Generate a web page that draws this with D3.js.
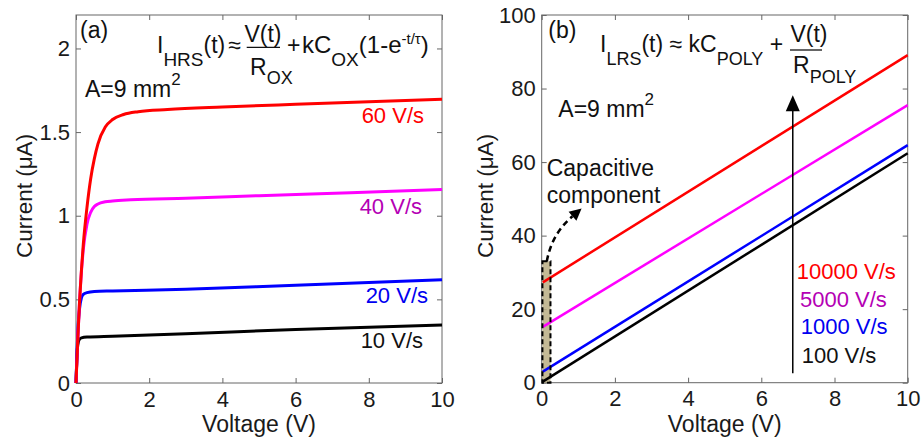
<!DOCTYPE html>
<html>
<head>
<meta charset="utf-8">
<script src="https://cdn.jsdelivr.net/npm/d3@7"></script>
<style>
  body { margin: 0; background: #fff; }
  svg { display: block; }
  text { font-family: "Liberation Sans", Arial, Helvetica, sans-serif; }
</style>
</head>
<body>
<svg id="chart" width="922" height="441"></svg>
<script>
// ---- axis ticks ----
const voltageTicks = [0, 2, 4, 6, 8, 10];
const currentTicksA = [0, 0.5, 1, 1.5, 2];
const currentTicksB = [0, 20, 40, 60, 80, 100];

// ---- (a) high-resistance state: [voltage V, current uA] per sweep rate ----
const hrs60 = [[0,0],[0.05,0.27],[0.1,0.5],[0.15,0.68],[0.2,0.83],[0.3,1.05],[0.4,1.22],[0.5,1.34],[0.6,1.43],[0.8,1.53],[1.0,1.575],[1.3,1.605],[1.7,1.622],[2.5,1.635],[4,1.65],[6,1.666],[8,1.681],[10,1.697]];
const hrs40 = [[0,0],[0.05,0.27],[0.1,0.5],[0.15,0.67],[0.2,0.8],[0.3,0.95],[0.4,1.02],[0.5,1.055],[0.6,1.07],[0.8,1.083],[1.0,1.088],[1.5,1.095],[3,1.105],[5,1.12],[7.5,1.138],[10,1.157]];
const hrs20 = [[0,0],[0.03,0.2],[0.06,0.35],[0.1,0.45],[0.15,0.51],[0.2,0.53],[0.3,0.54],[0.5,0.547],[1,0.55],[3,0.56],[6,0.585],[10,0.617]];
const hrs10 = [[0,0],[0.02,0.13],[0.04,0.21],[0.07,0.25],[0.1,0.263],[0.15,0.27],[0.3,0.275],[1,0.28],[3,0.295],[6,0.32],[10,0.347]];
const hrsRates = ["60 V/s", "40 V/s", "20 V/s", "10 V/s"];

// ---- (b) low-resistance state: straight lines between two voltages ----
const lrsV = [0.03, 10];
const lrs10000 = [27.3, 89.1];
const lrs5000 = [15.2, 75.5];
const lrs1000 = [3.0, 64.6];
const lrs100 = [0.3, 62.4];
const lrsRates = ["10000 V/s", "5000 V/s", "1000 V/s", "100 V/s"];

// capacitive window near 0 V (voltage range, current height)
const capWindow = [0.02, 0.24];
const capHeight = 33;

const lineColors = ["#ff0000", "#ff00ff", "#0000ff", "#000000"];
const textColors = ["#ff0000", "#b400b4", "#0000f0", "#111111"];

const svg = d3.select("#chart");
const FS = 23;      // titles and annotations
const TICK_FS = 22; // tick and rate labels

// ---- scales ----
const xA = d3.scaleLinear().domain([0, 10]).range([76, 442]);
const yA = d3.scaleLinear().domain([0, 2.2]).range([383, 15]);
const xB = d3.scaleLinear().domain([0, 10]).range([541.7, 907.7]);
const yB = d3.scaleLinear().domain([0, 100]).range([382.7, 15]);

function drawAxes(x, y, yTicks) {
  const g = svg.append("g");
  const [x0, x1] = x.range();
  const [y0, y1] = y.range();
  const fmt = d3.format("~g");
  const style = sel => {
    sel.select(".domain").remove();
    sel.selectAll(".tick line").attr("stroke", "#666").attr("stroke-width", 1);
    sel.selectAll(".tick text").attr("font-size", TICK_FS).attr("fill", "#1a1a1a")
      .attr("font-family", "'Liberation Sans', Arial, sans-serif");
  };
  g.append("g").attr("transform", `translate(0,${y0})`)
    .call(d3.axisBottom(x).tickValues(voltageTicks).tickSize(-5).tickPadding(8).tickFormat(fmt)).call(style);
  g.append("g").attr("transform", `translate(0,${y1})`)
    .call(d3.axisTop(x).tickValues(voltageTicks).tickSize(-5).tickFormat("")).call(style);
  g.append("g").attr("transform", `translate(${x0},0)`)
    .call(d3.axisLeft(y).tickValues(yTicks).tickSize(-5).tickPadding(6).tickFormat(fmt)).call(style);
  g.append("g").attr("transform", `translate(${x1},0)`)
    .call(d3.axisRight(y).tickValues(yTicks).tickSize(-5).tickFormat("")).call(style);
  g.append("rect").attr("x", x0).attr("y", y1).attr("width", x1 - x0).attr("height", y0 - y1)
    .attr("fill", "none").attr("stroke", "#666").attr("stroke-width", 1);
  return g;
}

function axisTitles(x, y, titleX) {
  const cx = (x.range()[0] + x.range()[1]) / 2;
  svg.append("text").attr("x", cx).attr("y", 432).attr("text-anchor", "middle")
    .attr("font-size", FS).attr("fill", "#1a1a1a").text("Voltage (V)");
  svg.append("text").attr("transform", `translate(${titleX},196) rotate(-90)`)
    .attr("text-anchor", "middle").attr("font-size", 22.5).attr("fill", "#1a1a1a").text("Current (μA)");
}

// rich text: parts of {t, sub, sup, dx}; sub/sup give the baseline offset
function richText(x, y, parts, size, subSize, supSize) {
  size = size || FS; subSize = subSize || 18; supSize = supSize || 14;
  const t = svg.append("text").attr("x", x).attr("y", y).attr("font-size", size).attr("fill", "#111");
  let shift = 0;
  parts.forEach(p => {
    let target = 0, fs = size;
    if (p.sub) { target = p.sub; fs = subSize; }
    if (p.sup) { target = -p.sup; fs = supSize; }
    t.append("tspan").attr("dy", target - shift).attr("dx", p.dx || 0).attr("font-size", fs)
      .style("white-space", "pre").text(p.t);
    shift = target;
  });
  return t;
}

// ================= panel (a) =================
drawAxes(xA, yA, currentTicksA);
axisTitles(xA, yA, 31.5);

const lineA = d3.line().x(d => xA(d[0])).y(d => yA(d[1])).curve(d3.curveMonotoneX);
const hrsSeries = [hrs60, hrs40, hrs20, hrs10];
// draw slow sweep first so the fast one sits on top near the origin
hrsSeries.slice().reverse().forEach((s, i) => {
  svg.append("path").attr("d", lineA(s)).attr("fill", "none")
    .attr("stroke", lineColors[3 - i]).attr("stroke-width", 3).attr("stroke-linejoin", "round");
});

const hrsLabelPos = [[424, 123], [422, 214], [428, 303], [423, 348]];
hrsRates.forEach((r, i) => {
  svg.append("text").attr("x", hrsLabelPos[i][0]).attr("y", hrsLabelPos[i][1])
    .attr("text-anchor", "end").attr("font-size", TICK_FS).attr("fill", textColors[i]).text(r);
});

svg.append("text").attr("x", 80).attr("y", 38).attr("font-size", FS).attr("fill", "#111").text("(a)");
richText(85, 97, [{t: "A=9 mm"}, {t: "2", sup: 12}], FS, 18, 17);

// I_HRS(t) ≈ V(t)/R_OX + kC_OX(1-e^{-t/τ})
richText(157, 53, [{t: "I"}, {t: "HRS", sub: 13}, {t: "(t)"}, {t: "≈", dx: 3}], FS, 19);
svg.append("text").attr("x", 263).attr("y", 41.7).attr("text-anchor", "middle")
  .attr("font-size", FS).attr("fill", "#111").text("V(t)");
svg.append("line").attr("x1", 246.7).attr("x2", 280).attr("y1", 47.3).attr("y2", 47.3)
  .attr("stroke", "#111").attr("stroke-width", 1.3);
richText(250, 75, [{t: "R"}, {t: "OX", sub: 9}], FS, 18);
richText(287, 53, [{t: "+"}], FS);
richText(302, 53, [{t: "kC"}, {t: "OX", sub: 13}, {t: "(1-e"}, {t: "-t/τ", sup: 9}, {t: ")"}], 24, 19, 15);

// ================= panel (b) =================
drawAxes(xB, yB, currentTicksB);
axisTitles(xB, yB, 493);

// capacitive window
const capX0 = xB(capWindow[0]), capX1 = xB(capWindow[1]), capY = yB(capHeight);
svg.append("rect").attr("x", capX0).attr("y", capY).attr("width", capX1 - capX0)
  .attr("height", yB(0) - capY).attr("fill", "#b8ad82").attr("opacity", 0.85);

const lrsSeries = [lrs10000, lrs5000, lrs1000, lrs100];
const lineB = d3.line().x(d => xB(d[0])).y(d => yB(d[1]));
lrsSeries.forEach((s, i) => {
  const pts = lrsV.map((v, k) => [v, s[k]]);
  svg.append("path").attr("d", lineB(pts)).attr("fill", "none")
    .attr("stroke", lineColors[i]).attr("stroke-width", 2.5);
});

svg.append("rect").attr("x", capX0).attr("y", capY).attr("width", capX1 - capX0)
  .attr("height", yB(0) - capY).attr("fill", "none").attr("stroke", "#000")
  .attr("stroke-width", 2).attr("stroke-dasharray", "5,3");

// dashed pointer from the window to its caption
const pStart = [xB(0.14), yB(33)];
const pTip = [xB(1.09), yB(47.4)];
const pCtrl = [xB(0.27), yB(40.4)];
const dir = [pTip[0] - pCtrl[0], pTip[1] - pCtrl[1]];
const len = Math.hypot(dir[0], dir[1]);
const u = [dir[0] / len, dir[1] / len];
const headL = 12, headW = 6;
const base = [pTip[0] - u[0] * headL, pTip[1] - u[1] * headL];
svg.append("path")
  .attr("d", `M${pStart[0]},${pStart[1]} Q${pCtrl[0]},${pCtrl[1]} ${base[0]},${base[1]}`)
  .attr("fill", "none").attr("stroke", "#000").attr("stroke-width", 2.5).attr("stroke-dasharray", "6,4");
svg.append("path")
  .attr("d", `M${pTip[0]},${pTip[1]} L${base[0] - u[1] * headW},${base[1] + u[0] * headW} L${base[0] + u[1] * headW},${base[1] - u[0] * headW}Z`)
  .attr("fill", "#000");

svg.append("text").attr("x", 546.7).attr("y", 176).attr("font-size", FS).attr("fill", "#111").text("Capacitive");
svg.append("text").attr("x", 546.7).attr("y", 203).attr("font-size", FS).attr("fill", "#111").text("component");

// sweep-rate arrow
const arrowV = 6.86, arrowFrom = 2.6, arrowTo = 78.2;
const ax = xB(arrowV);
svg.append("line").attr("x1", ax).attr("x2", ax).attr("y1", yB(arrowFrom)).attr("y2", yB(arrowTo) + 14)
  .attr("stroke", "#000").attr("stroke-width", 1.5);
svg.append("path")
  .attr("d", `M${ax},${yB(arrowTo)} L${ax - 7},${yB(arrowTo) + 16} L${ax + 7},${yB(arrowTo) + 16}Z`)
  .attr("fill", "#000");

const lrsLabelPos = [[796.7, 279], [800, 306.7], [800.7, 334], [801.7, 362.7]];
lrsRates.forEach((r, i) => {
  svg.append("text").attr("x", lrsLabelPos[i][0]).attr("y", lrsLabelPos[i][1])
    .attr("font-size", TICK_FS).attr("fill", textColors[i]).text(r);
});

svg.append("text").attr("x", 548.3).attr("y", 38).attr("font-size", FS).attr("fill", "#111").text("(b)");
richText(558.3, 117, [{t: "A=9 mm"}, {t: "2", sup: 12}], FS, 18, 17);

// I_LRS(t) ≈ kC_POLY + V(t)/R_POLY
richText(600, 52, [{t: "I"}, {t: "LRS", sub: 13}, {t: "(t) ≈ kC"}, {t: "POLY", sub: 13}, {t: " +"}], FS, 18);
svg.append("text").attr("x", 809).attr("y", 41.7).attr("text-anchor", "middle")
  .attr("font-size", FS).attr("fill", "#111").text("V(t)");
svg.append("line").attr("x1", 790).attr("x2", 822).attr("y1", 50).attr("y2", 50)
  .attr("stroke", "#111").attr("stroke-width", 1.3);
richText(793, 73, [{t: "R"}, {t: "POLY", sub: 10}], FS, 18);
</script>
</body>
</html>
